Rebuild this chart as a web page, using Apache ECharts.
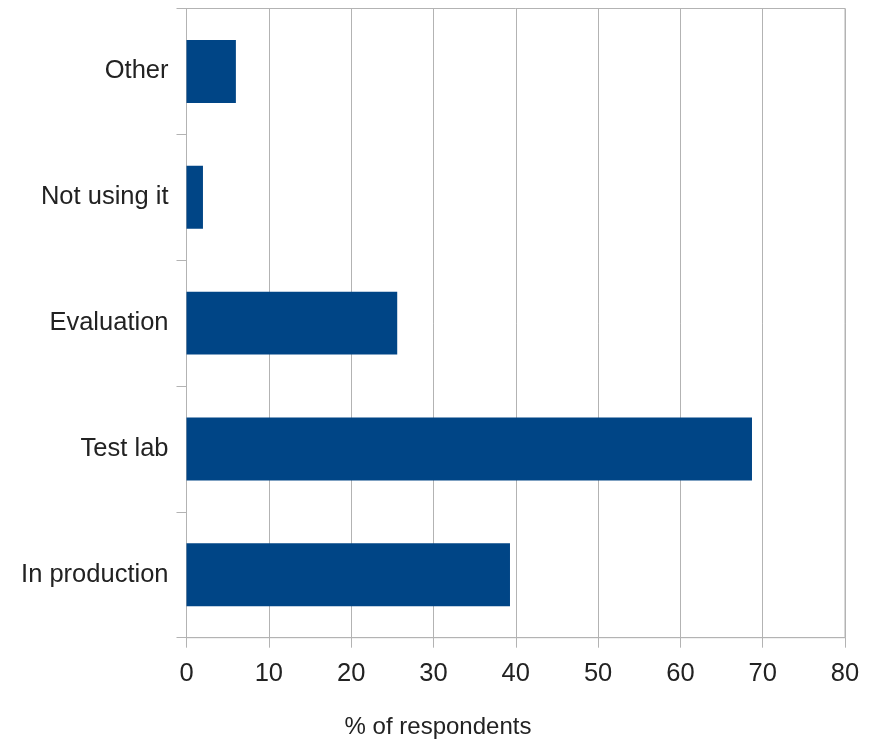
<!DOCTYPE html>
<html>
<head>
<meta charset="utf-8">
<script src="https://cdn.jsdelivr.net/npm/echarts@6/dist/echarts.min.js"></script>
<style>html,body{margin:0;padding:0;background:#fff;}#c{width:876px;height:741px;}</style>
</head>
<body>
<div id="c"></div>
<script>
const categories = ['In production', 'Test lab', 'Evaluation', 'Not using it', 'Other'];
const values = [39.3, 68.7, 25.6, 2.0, 6.0];
const xTicks = [0, 10, 20, 30, 40, 50, 60, 70, 80];
const axisTitle = '% of respondents';

const chart = echarts.init(document.getElementById('c'), null, {renderer: 'canvas'});
chart.setOption({
  animation: false,
  backgroundColor: '#ffffff',
  title: {
    text: axisTitle,
    left: 'center',
    top: 715,
    padding: 0,
    textStyle: {fontFamily: 'Liberation Sans', fontSize: 24, fontWeight: 'normal', color: '#222'}
  },
  grid: {
    left: 186.5, right: 31, top: 8.5, bottom: 103.3,
    show: true, borderColor: '#b3b3b3', borderWidth: 1, backgroundColor: 'transparent'
  },
  xAxis: {
    type: 'value',
    min: xTicks[0], max: xTicks[xTicks.length - 1], interval: 10,
    axisLine: {show: true, lineStyle: {color: '#b3b3b3', width: 1}},
    axisTick: {show: true, length: 10, lineStyle: {color: '#b3b3b3'}},
    splitLine: {show: true, lineStyle: {color: '#b3b3b3', width: 1}},
    axisLabel: {margin: 23, fontFamily: 'Liberation Sans', fontSize: 25.5, color: '#222'}
  },
  yAxis: {
    type: 'category',
    data: categories,
    axisLine: {show: true, lineStyle: {color: '#b3b3b3', width: 1}},
    axisTick: {show: true, length: 10, lineStyle: {color: '#b3b3b3'}},
    splitLine: {show: false},
    axisLabel: {margin: 18, fontFamily: 'Liberation Sans', fontSize: 25.5, color: '#222'}
  },
  series: [{
    type: 'bar',
    data: values,
    barCategoryGap: '50%',
    itemStyle: {color: '#004586'}
  }]
});
</script>
</body>
</html>
